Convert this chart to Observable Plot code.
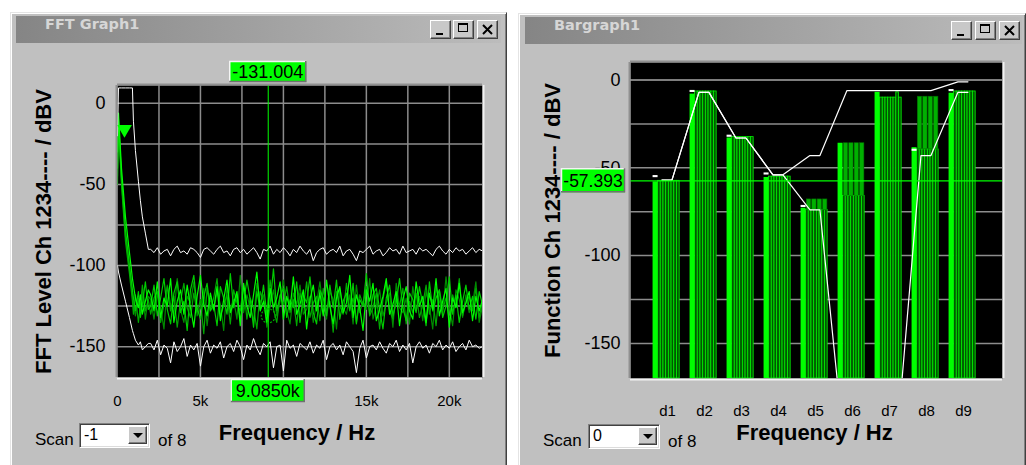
<!DOCTYPE html>
<html><head><meta charset="utf-8">
<script src="https://cdn.jsdelivr.net/npm/d3@7"></script>
<script src="https://cdn.jsdelivr.net/npm/@observablehq/plot@0.6"></script>
<style>
html,body{margin:0;padding:0;background:#fff;}
#root{position:relative;width:1026px;height:465px;overflow:hidden;font-family:"Liberation Sans",Arial,sans-serif;}
.win{position:absolute;background:#c0c0c0;box-sizing:border-box;border-top:1px solid #e4e4e4;border-left:1px solid #e4e4e4;border-right:1px solid #404040;box-shadow:inset 1px 1px 0 #fff, inset -1px 0 0 #808080;}
.title{position:absolute;height:27px;line-height:27px;background:linear-gradient(90deg,#858585,#bcbcbc);color:#d6d6d6;font:bold 14.5px "DejaVu Sans",sans-serif;box-sizing:border-box;padding-left:29px;}
.btn{position:absolute;width:21px;height:19px;box-sizing:border-box;background:#c8c8c8;border:1px solid;border-color:#fff #404040 #404040 #fff;box-shadow:inset -1px -1px 0 #808080;}
.btn .min{position:absolute;left:5px;top:12px;width:7px;height:2px;background:#000;}
.btn .max{position:absolute;left:4px;top:2px;width:10px;height:9px;box-sizing:border-box;border:1px solid #000;border-top-width:2px;}
.btn svg{position:absolute;left:3px;top:2px;}
.lbl{position:absolute;font-size:17px;line-height:20px;color:#000;}
.combo{position:absolute;background:#fff;box-sizing:border-box;border:1px solid;border-color:#808080 #fff #fff #808080;box-shadow:inset 1px 1px 0 #404040, inset -1px -1px 0 #dcdcdc;font-size:16px;line-height:22px;padding-left:4px;}
.drop{position:absolute;right:2px;top:2px;width:19px;height:18px;box-sizing:border-box;background:#c8c8c8;border:1px solid;border-color:#fff #404040 #404040 #fff;box-shadow:inset -1px -1px 0 #808080;}
.drop:after{content:"";position:absolute;left:4px;top:6px;border-left:5px solid transparent;border-right:5px solid transparent;border-top:5px solid #000;}
.chart{position:absolute;}
</style></head>
<body>
<div id="root">
  <div class="win" style="left:10px;top:12px;width:497px;height:460px;"></div>
  <div class="title" style="left:16px;top:16px;width:485px;">FFT Graph1</div>
  <div class="btn" style="left:430px;top:20px;"><div class="min"></div></div>
  <div class="btn" style="left:453px;top:20px;"><div class="max"></div></div>
  <div class="btn" style="left:477px;top:20px;"><svg width="14" height="13"><path d="M2,2L11,11M11,2L2,11" stroke="#000" stroke-width="2"/></svg></div>

  <div class="win" style="left:518px;top:13px;width:508px;height:460px;"></div>
  <div class="title" style="left:525px;top:17px;width:497px;">Bargraph1</div>
  <div class="btn" style="left:951px;top:21px;"><div class="min"></div></div>
  <div class="btn" style="left:975px;top:21px;"><div class="max"></div></div>
  <div class="btn" style="left:999px;top:21px;"><svg width="14" height="13"><path d="M2,2L11,11M11,2L2,11" stroke="#000" stroke-width="2"/></svg></div>

  <div id="fft" class="chart" style="left:10px;top:45px;"></div>
  <div id="bar" class="chart" style="left:518px;top:45px;"></div>

  <div class="lbl" style="left:35px;top:430px;">Scan</div>
  <div class="combo" style="left:79px;top:423px;width:71px;height:25px;">-1<div class="drop"></div></div>
  <div class="lbl" style="left:158px;top:431px;">of 8</div>

  <div class="lbl" style="left:543px;top:431px;">Scan</div>
  <div class="combo" style="left:588px;top:424px;width:72px;height:25px;">0<div class="drop"></div></div>
  <div class="lbl" style="left:668px;top:432px;">of 8</div>
</div>
<script>
// ================= FFT Graph data =================
const fftCursorFreq = 9085;
const fftCursorLevel = -131.004;
const fftXTicks = [0, 5000, 15000, 20000];   // the 10k label is hidden under the cursor box
const fftYTicks = [0, -50, -100, -150];
const fftGridX = [2500, 5000, 7500, 10000, 12500, 15000, 17500, 20000];
const fftGridY = [0, -25, -50, -75, -100, -125, -150];
const fftRefMarker = [{f: 420, v: -16}];

const headFreq   = [0, 60, 240, 480, 720, 900, 960, 1080, 1260, 1380, 1500, 1680, 1860];
const upperHead  = [-20, 9.5, 9.5, 9.5, 9.5, 9.5, -11, -29, -48, -60, -70, -80, -90];
const lowerHead  = [-100, -104, -112, -122, -132, -140, -142, -146, -149, -147, -152, -150, -148];
const greenAHead = [-30, -6, -40, -70, -92, -108, -112, -120, -126, -118, -130, -122, -115];
const greenBHead = [-40, -10, -45, -78, -100, -115, -120, -128, -116, -132, -124, -110, -127];
const greenCHead = [-50, -14, -50, -85, -105, -122, -130, -118, -135, -125, -112, -128, -121];
const greenDHead = [-45, -12, -48, -82, -102, -118, -124, -131, -120, -128, -116, -133, -119];

const noiseFreq = d3.range(2000, 22001, 200); // FFT bins shown below
const upperNoise = [
 -90,-92,-89,-93,-91,-90,-94,-90,-88,-92,
 -91,-93,-89,-90,-92,-95,-90,-89,-91,-93,
 -90,-88,-92,-91,-94,-90,-89,-92,-90,-93,
 -91,-89,-92,-96,-90,-91,-88,-93,-90,-92,
 -89,-91,-94,-90,-92,-88,-91,-93,-90,-97,
 -92,-90,-89,-93,-91,-90,-92,-88,-94,-91,
 -90,-93,-97,-91,-92,-90,-88,-93,-91,-90,
 -94,-92,-89,-91,-90,-93,-88,-92,-91,-90,
 -93,-89,-91,-90,-92,-94,-90,-88,-91,-93,
 -90,-92,-89,-91,-90,-93,-91,-89,-92,-90,
 -91];
const lowerNoise = [
 -148,-152,-146,-155,-149,-151,-160,-147,-153,-150,
 -145,-156,-149,-152,-148,-162,-150,-146,-154,-149,
 -151,-147,-157,-150,-148,-153,-146,-150,-158,-149,
 -152,-145,-151,-155,-148,-150,-147,-163,-150,-149,
 -165,-146,-151,-149,-156,-148,-150,-152,-147,-154,
 -149,-151,-146,-158,-150,-148,-152,-149,-155,-147,
 -150,-153,-166,-151,-146,-157,-150,-149,-152,-147,
 -151,-154,-148,-150,-146,-153,-149,-152,-148,-160,
 -150,-147,-151,-149,-154,-148,-150,-146,-152,-149,
 -151,-147,-153,-150,-148,-152,-146,-150,-149,-151,
 -150];
const greenANoise = [
 -118,-128,-110,-132,-120,-125,-108,-135,-122,-115,
 -130,-112,-126,-138,-119,-106,-124,-131,-117,-127,
 -113,-134,-121,-109,-129,-123,-116,-137,-111,-125,
 -132,-118,-104,-128,-122,-135,-114,-126,-120,-110,
 -133,-119,-127,-107,-130,-124,-115,-139,-121,-112,
 -128,-117,-131,-109,-125,-136,-120,-113,-129,-123,
 -106,-132,-118,-126,-140,-115,-122,-111,-134,-127,
 -119,-108,-130,-124,-116,-137,-121,-113,-128,-133,
 -110,-125,-119,-135,-117,-127,-108,-131,-122,-114,
 -138,-120,-126,-111,-129,-123,-116,-134,-119,-128,
 -121];
const greenBNoise = [
 -125,-112,-131,-120,-108,-127,-136,-117,-110,-129,
 -122,-140,-115,-106,-126,-133,-119,-111,-128,-124,
 -137,-113,-120,-130,-105,-126,-118,-134,-123,-109,
 -121,-138,-116,-127,-112,-130,-124,-102,-128,-119,
 -114,-132,-121,-126,-110,-135,-118,-123,-107,-129,
 -136,-115,-120,-131,-112,-126,-109,-133,-122,-117,
 -128,-111,-136,-121,-125,-105,-130,-118,-114,-127,
 -139,-120,-112,-131,-123,-108,-126,-134,-117,-121,
 -129,-113,-124,-137,-110,-128,-120,-115,-132,-125,
 -107,-130,-118,-135,-122,-112,-127,-119,-133,-116,
 -124];
const greenCNoise = [
 -130,-120,-116,-135,-124,-113,-128,-119,-138,-122,
 -111,-126,-132,-117,-129,-121,-142,-114,-127,-120,
 -108,-131,-125,-118,-136,-115,-123,-128,-112,-133,
 -120,-126,-139,-116,-122,-131,-109,-127,-135,-118,
 -124,-113,-129,-121,-137,-117,-126,-110,-132,-123,
 -119,-134,-114,-128,-122,-141,-116,-125,-130,-111,
 -127,-120,-135,-118,-124,-113,-131,-126,-117,-139,
 -121,-110,-128,-133,-119,-125,-114,-136,-122,-129,
 -117,-132,-124,-112,-130,-121,-137,-115,-127,-120,
 -134,-118,-125,-108,-131,-123,-119,-128,-114,-132,
 -122];
const greenDNoise = [
 -121,-133,-117,-126,-139,-112,-124,-130,-108,-127,
 -135,-119,-123,-110,-131,-126,-114,-137,-120,-128,
 -116,-124,-140,-113,-127,-121,-133,-106,-129,-118,
 -126,-134,-111,-123,-118,-138,-125,-115,-131,-122,
 -109,-128,-136,-117,-124,-112,-130,-127,-119,-135,
 -123,-110,-127,-133,-116,-121,-139,-114,-126,-130,
 -118,-136,-112,-129,-122,-127,-108,-133,-125,-115,
 -131,-123,-117,-138,-111,-126,-129,-120,-136,-113,
 -128,-119,-134,-116,-125,-139,-113,-122,-130,-107,
 -126,-137,-115,-121,-132,-118,-129,-124,-110,-135,
 -125];

// ================= Bargraph data =================
const barCats = ["d1", "d2", "d3", "d4", "d5", "d6", "d7", "d8", "d9"];
const barFirstScan = [-58, -8, -33, -55.5, -73, -36, -7, -38.5, -7.5];
const barScans = [
 [-57.4,-57.4,-57.4,-57.4,-57.4,-57.4,-57.4,-57.4],
 [-6.5,-6.5,-6.5,-6.5,-6.5,-6.5,-6.5,-6.5],
 [-32.5,-32.5,-32.5,-32.5,-32.5,-32.5,-32.5,-32.5],
 [-55,-55,-55,-55,-55,-55,-55,-55],
 [-74,-74,-74,-74,-74,-74,-74,-74],
 [-66,-66,-66,-66,-66,-66,-66,-66],
 [-10,-10,-10,-10,-10,-10,-7,-10],
 [-39.5,-39.5,-39.5,-39.5,-39.5,-39.5,-39.5,-39.5],
 [-6.5,-6.5,-6.5,-6.5,-6.5,-6.5,-6.5,-6.5]
];
const barHold = [null, null, null, null, -68, -36, -7, -9.5, null];
const barPeakMarks = [-55, -6.5, -32, -53.5, -72, null, null, -40, -6];
const barEnvHigh = [-57, -7, -33, -54, -43, -6, -6, -6, -1];
const barEnvLow  = [-57, -7, -33, -54, -74, -225, -225, -43, -7];
const barCursor = -57.393;
const barYTicks = [0, -50, -100, -150];
const barGridY = [-25, -50, -75, -100, -125, -150];
const barZeroLine = [0];

// ================= helpers =================
const FONT = '"Liberation Sans", Arial, sans-serif';
function series(head, noise) {
  return headFreq.map((f, i) => ({f, v: head[i]}))
    .concat(noiseFreq.map((f, i) => ({f, v: noise[i]})).filter(d => d.v != null));
}
function addBox(svg, x0, cy, w, h, label, fs) {
  const g = d3.select(svg).append("g");
  const y0 = cy - h / 2;
  g.append("rect").attr("x", x0).attr("y", y0).attr("width", w).attr("height", h).attr("fill", "#00ff00");
  g.append("path").attr("d", `M${x0 + 0.5},${y0 + h}V${y0 + 0.5}H${x0 + w}`).attr("stroke", "#f4f4f4").attr("stroke-width", 1.5).attr("fill", "none");
  g.append("path").attr("d", `M${x0 + w - 0.5},${y0}V${y0 + h - 0.5}H${x0}`).attr("stroke", "#707070").attr("stroke-width", 1.5).attr("fill", "none");
  g.append("text").attr("x", x0 + w / 2).attr("y", cy).attr("dy", "0.36em").attr("text-anchor", "middle")
    .attr("font-family", FONT).attr("font-size", fs).attr("fill", "#000").text(label);
}

// ================= FFT plot =================
const fftX = [0, 22000], fftY = [-169, 11];
const fft = Plot.plot({
  width: 497, height: 420,
  marginLeft: 107, marginRight: 25, marginTop: 40, marginBottom: 88,
  style: {background: "transparent", fontFamily: FONT, color: "#000", overflow: "visible"},
  x: {domain: fftX, axis: null},
  y: {domain: fftY, axis: null},
  marks: [
    Plot.frame({fill: "#000", stroke: "none"}),
    Plot.ruleX(fftGridX, {stroke: "#8c8c8c", strokeWidth: 1.5}),
    Plot.ruleY(fftGridY, {stroke: "#8c8c8c", strokeWidth: 1.5}),
    Plot.line(series(greenDHead, greenDNoise), {x: "f", y: "v", stroke: "#008c00", strokeWidth: 1.2, clip: true}),
    Plot.line(series(greenCHead, greenCNoise), {x: "f", y: "v", stroke: "#00a800", strokeWidth: 1.2, clip: true}),
    Plot.line(series(greenBHead, greenBNoise), {x: "f", y: "v", stroke: "#00cc00", strokeWidth: 1.2, clip: true}),
    Plot.line(series(greenAHead, greenANoise), {x: "f", y: "v", stroke: "#00ff00", strokeWidth: 1.2, clip: true}),
    Plot.line(series(upperHead, upperNoise), {x: "f", y: "v", stroke: "#ffffff", strokeWidth: 1, clip: true}),
    Plot.line(series(lowerHead, lowerNoise), {x: "f", y: "v", stroke: "#ffffff", strokeWidth: 1, clip: true}),
    Plot.ruleX([fftCursorFreq], {stroke: "#00ff00", strokeWidth: 1}),
    Plot.dot([{f: fftCursorFreq, v: fftCursorLevel}], {x: "f", y: "v", r: 7, stroke: "#00b000", strokeWidth: 1.2, strokeDasharray: "2,1.5", fill: "none"}),
    Plot.dot(fftRefMarker, {x: "f", y: "v", symbol: "triangle", rotate: 180, r: 5.5, fill: "#00ff00", stroke: "none"}),
    Plot.ruleX([fftX[0]], {stroke: "#909090", strokeWidth: 2, dx: -1}),
    Plot.ruleY([fftY[1]], {stroke: "#909090", strokeWidth: 2, dy: -1}),
    Plot.ruleX([fftX[1]], {stroke: "#f2f2f2", strokeWidth: 2, dx: 1}),
    Plot.ruleY([fftY[0]], {stroke: "#f2f2f2", strokeWidth: 2, dy: 1}),
    Plot.axisX(fftXTicks, {tickSize: 0, tickPadding: 18, fontSize: 15, label: null,
      tickFormat: d => d === 0 ? "0" : (d / 1000) + "k"}),
    Plot.axisY(fftYTicks, {tickSize: 0, tickPadding: 12, fontSize: 18, label: null, tickFormat: d => String(d)}),
    Plot.text(["FFT Level Ch 1234---- / dBV"], {text: d => d, frameAnchor: "left", dx: -74, rotate: -90,
      textAnchor: "middle", lineAnchor: "middle", fontSize: 22, fontWeight: "bold", fill: "#000"}),
    Plot.text(["Frequency / Hz"], {text: d => d, frameAnchor: "bottom", dy: 55, dx: -3,
      textAnchor: "middle", lineAnchor: "middle", fontSize: 22, fontWeight: "bold", fill: "#000"})
  ]
});
document.getElementById("fft").appendChild(fft);
{
  const xs = fft.scale("x"), cx = xs.apply(fftCursorFreq);
  addBox(fft, cx - 38.5, 26.5, 77, 21, fftCursorLevel.toFixed(3), 18);
  addBox(fft, cx - 37, 345.5, 74, 23, (fftCursorFreq / 1000).toFixed(4) + "k", 18);
}

// ================= Bargraph plot =================
const barX = [0, 10.054], barY = [-170, 10];
const groupStart = -0.39, brightW = 0.135, thinW = 0.073, holdW = 0.118, holdStep = 0.146;
const thinBars = barScans.flatMap((vals, i) => vals.map((v, j) => {
  const x1 = i + 1 + groupStart + brightW + j * thinW;
  return {x1, x2: x1 + thinW, v};
}));
const holdBars = barHold.flatMap((h, i) => h == null ? [] : [0, 1, 2, 3].map(k => {
  const x1 = i + 1 + groupStart + brightW + 0.02 + k * holdStep;
  return {x1, x2: x1 + holdW, lo: Math.max(...barScans[i]), hi: h};
}));
const brightBars = barFirstScan.map((v, i) => ({x1: i + 1 + groupStart, x2: i + 1 + groupStart + brightW, v}));
const caps = barPeakMarks.map((v, i) => ({x1: i + 1 + groupStart, x2: i + 1 + groupStart + brightW, v})).filter(d => d.v != null);
const envPts = arr => arr.flatMap((v, i) => [{x: i + 1 - 0.15, v}, {x: i + 1 + 0.12, v}]);

const bar = Plot.plot({
  width: 508, height: 420,
  marginLeft: 112, marginRight: 24, marginTop: 17, marginBottom: 87,
  style: {background: "transparent", fontFamily: FONT, color: "#000", overflow: "visible"},
  x: {domain: barX, axis: null},
  y: {domain: barY, axis: null},
  marks: [
    Plot.frame({fill: "#000", stroke: "none"}),
    Plot.ruleY(barGridY, {stroke: "#8c8c8c", strokeWidth: 1.5}),
    Plot.ruleY(barZeroLine, {stroke: "#a8a8a8", strokeWidth: 1.5}),
    Plot.rect(thinBars, {x1: "x1", x2: "x2", y1: () => barY[0], y2: "v", fill: "#005800", stroke: "#00f000", strokeWidth: 0.8}),
    Plot.rect(holdBars, {x1: "x1", x2: "x2", y1: "lo", y2: "hi", fill: "#00b000", stroke: "#007000", strokeWidth: 0.6}),
    Plot.rect(brightBars, {x1: "x1", x2: "x2", y1: () => barY[0], y2: "v", fill: "#00ff00"}),
    Plot.rect(caps, {x1: "x1", x2: "x2", y1: d => d.v - 0.6, y2: d => d.v + 0.6, fill: "#ffffff"}),
    Plot.line(envPts(barEnvHigh), {x: "x", y: "v", stroke: "#ffffff", strokeWidth: 1.2, clip: true}),
    Plot.line(envPts(barEnvLow), {x: "x", y: "v", stroke: "#ffffff", strokeWidth: 1.2, clip: true}),
    Plot.ruleY([barCursor], {stroke: "#00ff00", strokeWidth: 1.2}),
    Plot.ruleX([barX[0]], {stroke: "#909090", strokeWidth: 2, dx: -1}),
    Plot.ruleY([barY[1]], {stroke: "#909090", strokeWidth: 2, dy: -1}),
    Plot.ruleX([barX[1]], {stroke: "#f2f2f2", strokeWidth: 2, dx: 1}),
    Plot.ruleY([barY[0]], {stroke: "#f2f2f2", strokeWidth: 2, dy: 1}),
    Plot.axisX(barCats.map((c, i) => i + 1), {tickSize: 0, tickPadding: 27, fontSize: 15, label: null,
      tickFormat: d => barCats[d - 1]}),
    Plot.axisY(barYTicks, {tickSize: 0, tickPadding: 10, fontSize: 18, label: null, tickFormat: d => String(d)}),
    Plot.text(["Function Ch 1234---- / dBV"], {text: d => d, frameAnchor: "left", dx: -78, rotate: -90,
      textAnchor: "middle", lineAnchor: "middle", fontSize: 22, fontWeight: "bold", fill: "#000"}),
    Plot.text(["Frequency / Hz"], {text: d => d, frameAnchor: "bottom", dy: 54, dx: -2,
      textAnchor: "middle", lineAnchor: "middle", fontSize: 22, fontWeight: "bold", fill: "#000"})
  ]
});
document.getElementById("bar").appendChild(bar);
{
  const xs = bar.scale("x"), ys = bar.scale("y");
  addBox(bar, xs.apply(barX[0]) - 69, ys.apply(barCursor), 64, 24, barCursor.toFixed(3), 17.5);
}
</script>
</body></html>
